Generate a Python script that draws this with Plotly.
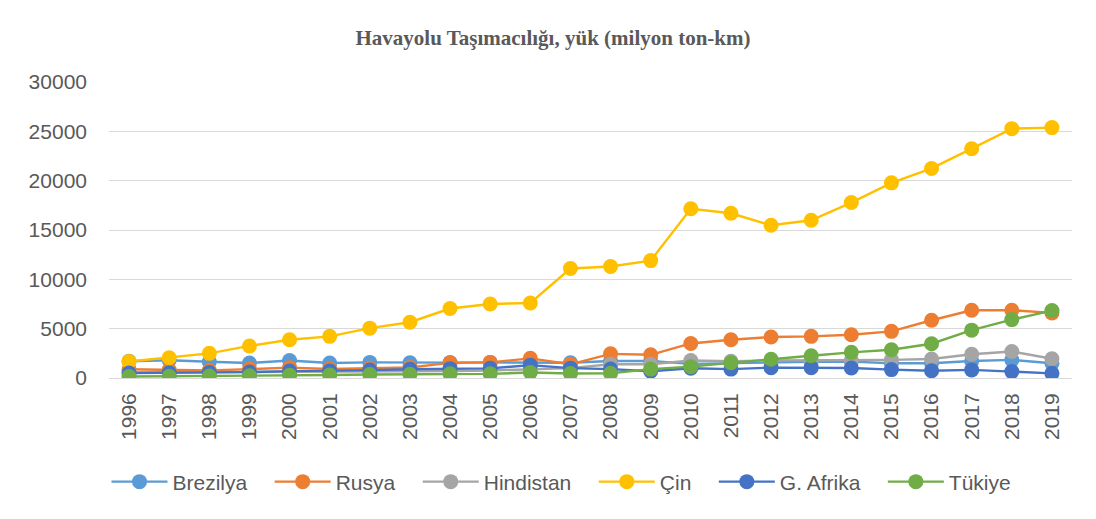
import plotly.graph_objects as go

# Air freight, million ton-km, 1996-2019
years = [str(y) for y in range(1996, 2020)]

brezilya = [1700, 1800, 1650, 1520, 1780, 1520, 1580, 1550, 1560, 1580, 1560, 1550,
            1730, 1730, 1430, 1500, 1630, 1640, 1660, 1500, 1500, 1730, 1840, 1500]
rusya = [880, 820, 760, 900, 1050, 920, 990, 1060, 1530, 1580, 1990, 1390,
         2450, 2350, 3500, 3880, 4150, 4220, 4390, 4730, 5850, 6870, 6870, 6600]
hindistan = [560, 580, 540, 560, 600, 590, 620, 650, 700, 760, 900, 1000,
             1400, 1400, 1780, 1700, 1780, 1780, 1800, 1840, 1920, 2410, 2690, 1950]
cin = [1670, 2050, 2500, 3250, 3880, 4220, 5050, 5650, 7040, 7500, 7600, 11100,
       11300, 11900, 17150, 16700, 15480, 15990, 17780, 19780, 21240, 23240, 25270, 25380]
g_afrika = [500, 520, 550, 600, 700, 720, 800, 880, 950, 980, 1300, 1000,
            900, 680, 990, 900, 1050, 1050, 1020, 850, 730, 820, 650, 470]
tukiye = [150, 170, 200, 230, 280, 300, 350, 380, 420, 420, 550, 450,
          480, 900, 1150, 1550, 1900, 2250, 2600, 2860, 3470, 4850, 5920, 6830]

series = [
    ("Brezilya", brezilya, "#5B9BD5"),
    ("Rusya", rusya, "#ED7D31"),
    ("Hindistan", hindistan, "#A5A5A5"),
    ("Çin", cin, "#FFC000"),
    ("G. Afrika", g_afrika, "#4472C4"),
    ("Tükiye", tukiye, "#70AD47"),
]

FONT = "Liberation Sans, Arial, sans-serif"
TEXT = "#595959"
GRID = "#D9D9D9"
PAD = "\u00a0" * 3  # extra room after each legend label

fig = go.Figure()
for name, vals, color in series:
    fig.add_trace(go.Scatter(
        x=years, y=vals, name=name + PAD, mode="lines+markers",
        line=dict(color=color, width=2.4),
        marker=dict(color=color, size=15, line=dict(width=0)),
    ))

fig.update_layout(
    width=1096, height=519,
    margin=dict(l=109, r=24, t=82, b=141, autoexpand=False),
    paper_bgcolor="white", plot_bgcolor="white",
    title=dict(
        text="<b>Havayolu Taşımacılığı, yük (milyon ton-km)</b>",
        font=dict(family="Liberation Serif, Times New Roman, serif", size=21, color=TEXT),
        x=553 / 1096, xanchor="center", xref="container",
        y=1 - 38 / 519, yanchor="middle", yref="container",
    ),
    xaxis=dict(
        type="category", range=[-0.5, len(years) - 0.5],
        showgrid=False, zeroline=False, showline=False,
        tickangle=-90, ticks="",
        tickfont=dict(family=FONT, size=21, color=TEXT),
        ticklabelstandoff=10,
    ),
    yaxis=dict(
        range=[0, 30000], dtick=5000, tick0=0, tickformat="d",
        showgrid=True, gridcolor=GRID, gridwidth=1.4,
        zeroline=True, zerolinecolor=GRID, zerolinewidth=1.4,
        showline=False, ticks="",
        tickfont=dict(family=FONT, size=21, color=TEXT),
        ticklabelstandoff=21,
    ),
    legend=dict(
        orientation="h", xanchor="center", x=(570 - 109) / 963,
        yanchor="middle", y=(378 - 482) / 296,
        font=dict(family=FONT, size=21, color=TEXT),
        itemwidth=56,
    ),
    showlegend=True,
)

fig.write_html("out.html")
